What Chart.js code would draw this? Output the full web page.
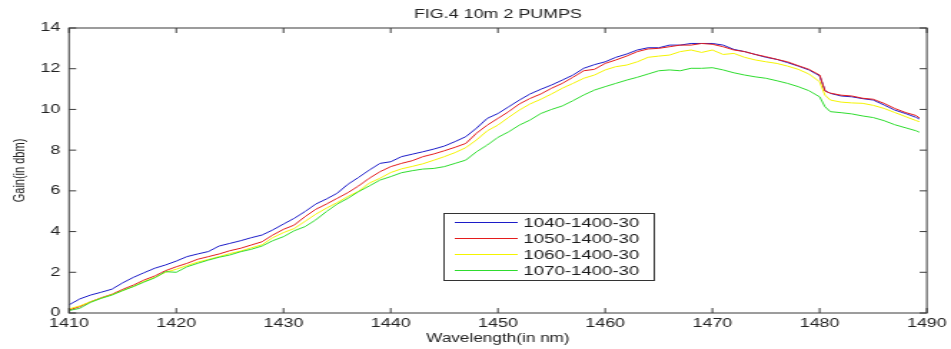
<!DOCTYPE html>
<html>
<head>
<meta charset="utf-8">
<script src="https://cdn.jsdelivr.net/npm/chart.js@4/dist/chart.umd.min.js"></script>
<style>
  html, body { margin: 0; padding: 0; background: #fff; overflow: hidden; }
  /* the original figure is stretched sideways, so draw narrow and widen */
  #wrap { width: 665px; height: 349px; transform: scaleX(1.4301); transform-origin: 0 0; }
</style>
</head>
<body>
<div id="wrap"><canvas id="gainChart"></canvas></div>
<script>
var wavelengths = [1410, 1411, 1412, 1413, 1414, 1415, 1416, 1417, 1418, 1419,
    1420, 1421, 1422, 1423, 1424, 1425, 1426, 1427, 1428, 1429,
    1430, 1431, 1432, 1433, 1434, 1435, 1436, 1437, 1438, 1439,
    1440, 1441, 1442, 1443, 1444, 1445, 1446, 1447, 1448, 1449,
    1450, 1451, 1452, 1453, 1454, 1455, 1456, 1457, 1458, 1459,
    1460, 1461, 1462, 1463, 1464, 1465, 1466, 1467, 1468, 1469,
    1470, 1471, 1472, 1473, 1474, 1475, 1476, 1477, 1478, 1479,
    1480, 1480.5, 1481, 1482, 1483, 1484, 1485, 1486, 1487, 1488, 1489, 1489.3];

var gain1040 = [0.40, 0.69, 0.88, 1.02, 1.17, 1.48, 1.75, 1.98, 2.20, 2.36,
    2.55, 2.77, 2.90, 3.02, 3.29, 3.42, 3.55, 3.70, 3.83, 4.08,
    4.37, 4.65, 4.98, 5.35, 5.60, 5.88, 6.32, 6.66, 7.02, 7.35,
    7.43, 7.68, 7.80, 7.92, 8.05, 8.20, 8.42, 8.66, 9.08, 9.56,
    9.80, 10.13, 10.46, 10.76, 10.99, 11.20, 11.44, 11.69, 12.02, 12.20,
    12.34, 12.56, 12.72, 12.92, 13.03, 13.03, 13.16, 13.16, 13.24, 13.24,
    13.24, 13.16, 12.95, 12.84, 12.70, 12.56, 12.46, 12.30, 12.13, 11.94,
    11.65, 10.92, 10.79, 10.66, 10.62, 10.53, 10.46, 10.22, 9.97, 9.80, 9.61, 9.53];

var gain1050 = [0.15, 0.31, 0.55, 0.75, 0.92, 1.16, 1.37, 1.62, 1.82, 2.08,
    2.27, 2.44, 2.64, 2.77, 2.90, 3.06, 3.18, 3.34, 3.50, 3.83,
    4.11, 4.32, 4.73, 5.09, 5.35, 5.63, 5.91, 6.24, 6.62, 6.94,
    7.19, 7.35, 7.48, 7.68, 7.81, 7.97, 8.14, 8.33, 8.83, 9.23,
    9.56, 9.89, 10.27, 10.54, 10.76, 11.04, 11.28, 11.58, 11.90, 11.97,
    12.26, 12.43, 12.62, 12.84, 12.97, 13.00, 13.08, 13.16, 13.16, 13.24,
    13.20, 13.08, 12.92, 12.84, 12.70, 12.59, 12.46, 12.34, 12.15, 11.97,
    11.69, 10.90, 10.80, 10.70, 10.66, 10.55, 10.50, 10.30, 10.05, 9.85, 9.70, 9.58];

var gain1060 = [0.20, 0.35, 0.55, 0.73, 0.90, 1.10, 1.30, 1.55, 1.75, 2.00,
    2.15, 2.33, 2.50, 2.63, 2.77, 2.92, 3.04, 3.20, 3.35, 3.70,
    3.95, 4.15, 4.50, 4.85, 5.15, 5.42, 5.72, 5.98, 6.38, 6.62,
    6.90, 7.08, 7.20, 7.33, 7.50, 7.68, 7.88, 8.12, 8.50, 8.95,
    9.23, 9.61, 9.97, 10.27, 10.50, 10.76, 11.04, 11.28, 11.53, 11.69,
    11.94, 12.10, 12.18, 12.34, 12.56, 12.62, 12.67, 12.84, 12.92, 12.80,
    12.92, 12.70, 12.75, 12.56, 12.43, 12.34, 12.26, 12.13, 11.97, 11.74,
    11.36, 10.70, 10.46, 10.36, 10.32, 10.30, 10.20, 10.05, 9.85, 9.65, 9.45, 9.40];

var gain1070 = [0.12, 0.23, 0.52, 0.72, 0.88, 1.10, 1.30, 1.52, 1.73, 2.03,
    2.00, 2.27, 2.44, 2.60, 2.74, 2.85, 3.01, 3.13, 3.29, 3.55,
    3.75, 4.04, 4.24, 4.57, 4.98, 5.35, 5.63, 5.96, 6.24, 6.53,
    6.70, 6.89, 6.99, 7.07, 7.10, 7.19, 7.35, 7.51, 7.92, 8.25,
    8.63, 8.90, 9.23, 9.48, 9.80, 10.00, 10.17, 10.43, 10.71, 10.95,
    11.12, 11.28, 11.44, 11.58, 11.74, 11.90, 11.94, 11.90, 12.02, 12.02,
    12.05, 11.94, 11.80, 11.69, 11.60, 11.53, 11.41, 11.28, 11.12, 10.92,
    10.62, 10.13, 9.89, 9.84, 9.78, 9.68, 9.60, 9.45, 9.25, 9.10, 8.95, 8.88];

var seriesLabels = ['1040-1400-30', '1050-1400-30', '1060-1400-30', '1070-1400-30'];
var seriesColors = ['#1c1cc8', '#e41c1c', '#f4f400', '#2edc2e'];
var chartTitle = 'FIG.4 10m 2 PUMPS';

function toPoints(vals) {
    return wavelengths.map(function (w, i) { return { x: w, y: vals[i] }; });
}

var FONT = "'Liberation Sans', Arial, sans-serif";

// box round the plot, MATLAB style ticks pointing inwards, title and legend
var matlabFrame = {
    id: 'matlabFrame',
    afterDatasetsDraw: function (chart) {
        var ctx = chart.ctx, a = chart.chartArea;
        var xs = chart.scales.x, ys = chart.scales.y;
        ctx.save();
        ctx.strokeStyle = '#3a3a3a';
        ctx.lineWidth = 1;
        ctx.strokeRect(a.left, a.top, a.right - a.left, a.bottom - a.top);
        ctx.beginPath();
        xs.ticks.forEach(function (t) {
            var px = xs.getPixelForValue(t.value);
            ctx.moveTo(px, a.bottom); ctx.lineTo(px, a.bottom - 5);
            ctx.moveTo(px, a.top); ctx.lineTo(px, a.top + 5);
        });
        ys.ticks.forEach(function (t) {
            var py = ys.getPixelForValue(t.value);
            ctx.moveTo(a.left, py); ctx.lineTo(a.left + 5, py);
            ctx.moveTo(a.right, py); ctx.lineTo(a.right - 5, py);
        });
        ctx.stroke();

        // title
        ctx.fillStyle = '#222';
        ctx.font = '12.5px ' + FONT;
        ctx.textAlign = 'center';
        ctx.textBaseline = 'middle';
        ctx.fillText(chartTitle, (a.left + a.right) / 2, 15);

        // legend, in the series order (datasets are stored reversed)
        var bx = 310, by = 213, bw = 147, bh = 67;
        ctx.fillStyle = '#fff';
        ctx.fillRect(bx, by, bw, bh);
        ctx.strokeStyle = '#333';
        ctx.strokeRect(bx + 0.5, by + 0.5, bw, bh);
        ctx.font = '13px ' + FONT;
        ctx.textAlign = 'left';
        chart.data.datasets.slice().reverse().forEach(function (ds, i) {
            var ry = by + 9.5 + i * 16;
            ctx.strokeStyle = ds.borderColor;
            ctx.beginPath();
            ctx.moveTo(bx + 8, ry); ctx.lineTo(bx + 52, ry);
            ctx.stroke();
            ctx.fillStyle = '#1a1a1a';
            ctx.fillText(ds.label, bx + 56, ry + 0.5);
        });
        ctx.restore();
    }
};

var ctx = document.getElementById('gainChart').getContext('2d');
var gainChart = new Chart(ctx, {
    type: 'line',
    data: {
        // reversed so the last series is painted on top, like MATLAB
        datasets: seriesLabels.map(function (lab, i) {
            return {
                label: lab,
                data: toPoints([gain1040, gain1050, gain1060, gain1070][i]),
                borderColor: seriesColors[i],
                borderWidth: 1,
                pointRadius: 0,
                tension: 0,
                fill: false
            };
        }).reverse()
    },
    options: {
        responsive: true,
        maintainAspectRatio: false,
        animation: false,
        layout: { padding: { top: 28, right: 14.7, left: 0, bottom: 0 } },
        plugins: {
            legend: { display: false },
            title: { display: false },
            tooltip: { enabled: false }
        },
        scales: {
            x: {
                type: 'linear',
                min: 1410,
                max: 1490,
                grid: { display: false, drawTicks: false },
                border: { display: false },
                ticks: {
                    stepSize: 10,
                    maxRotation: 0,
                    padding: 3,
                    color: '#222',
                    font: { family: FONT, size: 12.5 },
                    callback: function (v) { return String(v); }
                },
                title: {
                    display: true,
                    text: 'Wavelength(in nm)',
                    color: '#222',
                    font: { family: FONT, size: 12 },
                    padding: { top: 0, bottom: 3.6 }
                },
                afterFit: function (s) { s.height = 36; }
            },
            y: {
                min: 0,
                max: 14,
                grid: { display: false, drawTicks: false },
                border: { display: false },
                ticks: {
                    stepSize: 2,
                    padding: 6,
                    color: '#222',
                    font: { family: FONT, size: 12.5 }
                },
                title: {
                    display: true,
                    text: 'Gain(in dbm)',
                    color: '#222',
                    font: { family: FONT, size: 11 },
                    padding: { top: 7.4, bottom: 0 }
                },
                afterFit: function (s) { s.width = 48.25; }
            }
        }
    },
    plugins: [matlabFrame]
});
</script>
</body>
</html>
